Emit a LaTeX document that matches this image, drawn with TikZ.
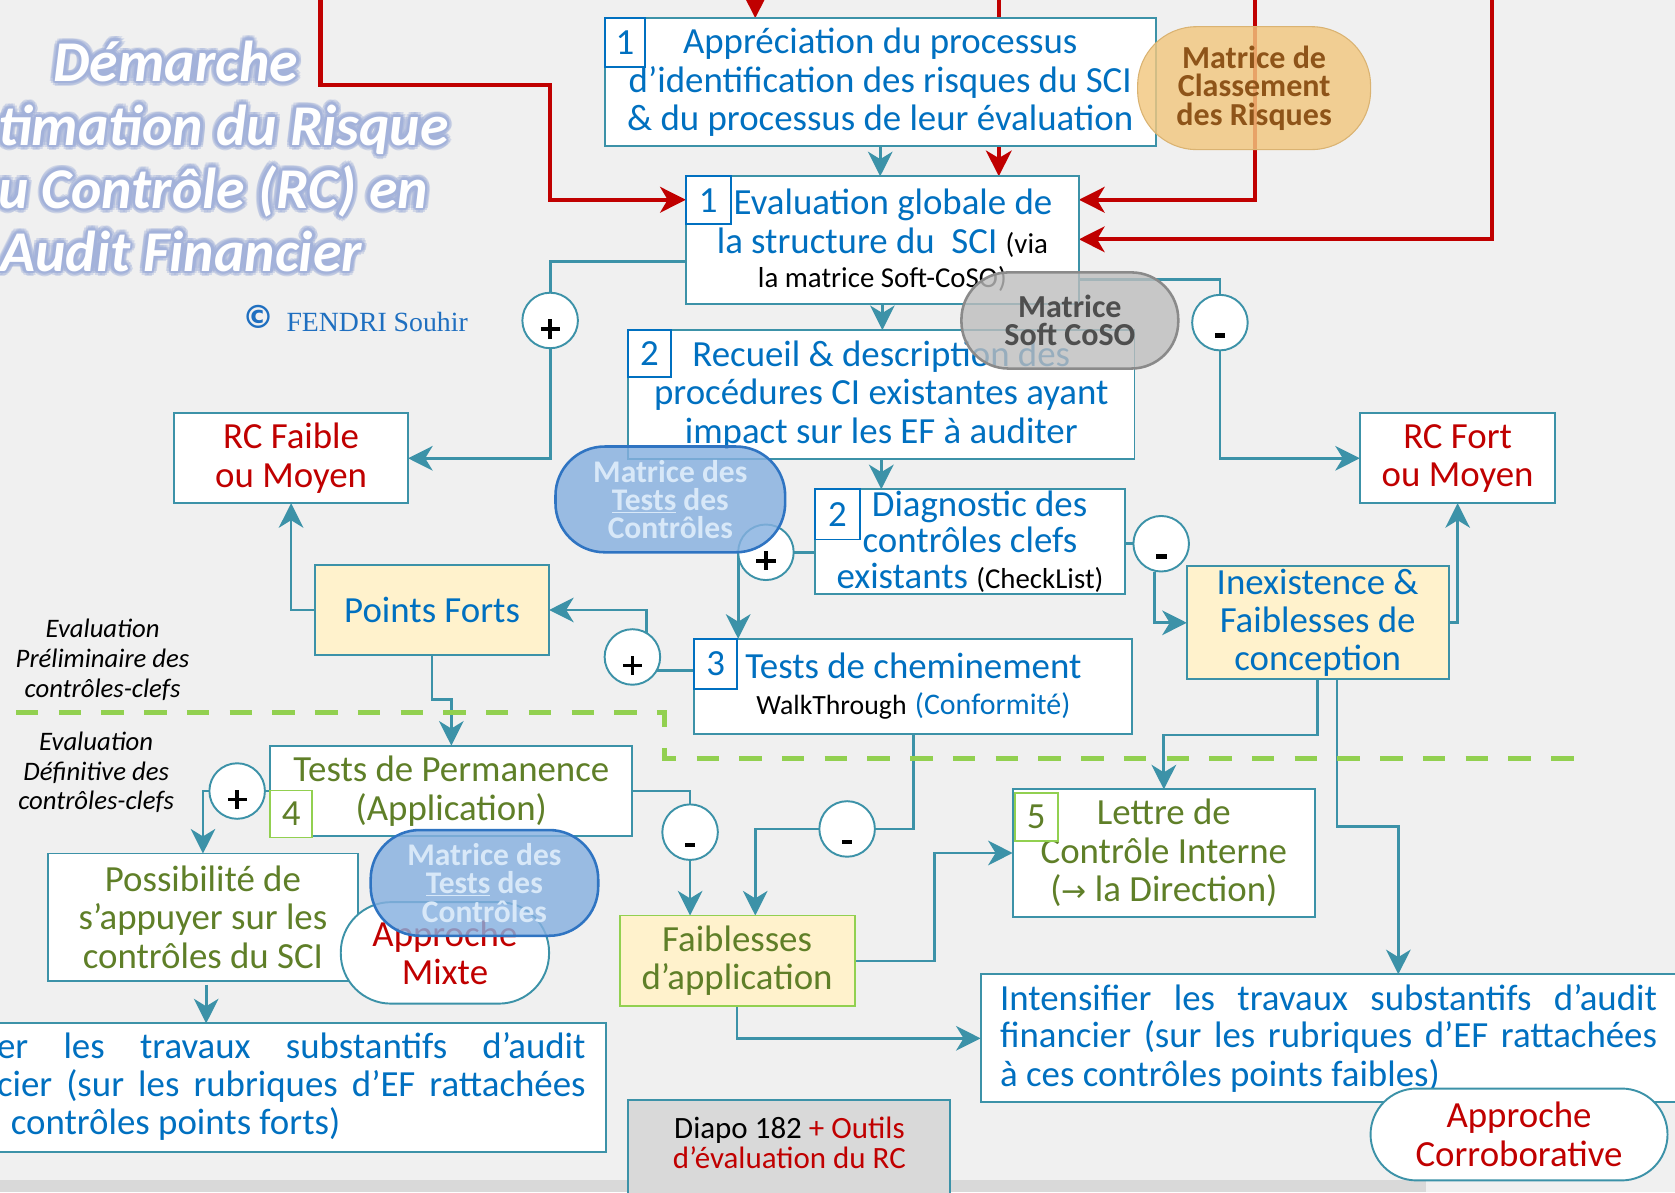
\documentclass[tikz,border=0pt]{standalone}
\usepackage{fontspec}
\setmainfont{Carlito}
\newfontfamily\serifrm{Liberation Serif}
\newfontfamily\symf{DejaVu Sans}
\usetikzlibrary{arrows.meta,calc}

\definecolor{bgc}{HTML}{F0F0F0}
\definecolor{stripc}{HTML}{D9D9D9}
\definecolor{tealc}{HTML}{3C92A8}
\definecolor{blueT}{HTML}{0070C0}
\definecolor{redT}{HTML}{C00000}
\definecolor{greenT}{HTML}{5F7F28}
\definecolor{greenB}{HTML}{92D050}
\definecolor{yelc}{HTML}{FFF2CC}
\definecolor{glowc}{HTML}{A3B2DA}
\definecolor{pillfill}{HTML}{86B0E0}
\definecolor{pilledge}{HTML}{2F74C2}
\definecolor{pilltext}{HTML}{D8E8F8}
\definecolor{orfill}{HTML}{F2C77F}
\definecolor{ortext}{HTML}{8E5419}
\definecolor{grfill}{HTML}{BDBDBD}
\definecolor{gredge}{HTML}{8A8A8A}
\definecolor{grtext}{HTML}{4E4E4E}
\definecolor{cpblue}{HTML}{1F6FC0}

\newcommand\mainf{\fontsize{34.5}{36}\selectfont}
\newcommand\smf{\fontsize{27}{30}\selectfont}
\newcommand\pillf{\fontsize{29.5}{26.5}\selectfont\bfseries}
\newcommand\titlef{\fontsize{54}{60}\selectfont\bfseries\itshape}

\pgfdeclarelayer{bg}
\pgfdeclarelayer{wires}
\pgfdeclarelayer{front}
\pgfsetlayers{bg,wires,main,front}

% title line with a soft blue halo: name, base-west point, text
\newcommand\glowline[3]{%
  \foreach \ang in {0,30,...,330}{
    \node[ttl,text=glowc,opacity=.4] (#1o\ang) at ($(#2)+(\ang:4.8)$) {#3};
    \node[ttl,text=glowc,opacity=.6] (#1i\ang) at ($(#2)+(\ang:2.4)$) {#3};
  }
  \node[ttl,text=white] (#1) at (#2) {#3};
}

\begin{document}
\begin{tikzpicture}[x=1pt,y=-1pt,
  ttl/.style={anchor=base west,inner sep=0pt,font=\titlef},
  box/.style={draw=tealc,line width=1.8pt,fill=white,inner sep=0pt,outer sep=0pt,align=center,font=\mainf},
  ybox/.style={box,fill=yelc},
  numb/.style={draw=blueT,line width=1.8pt,fill=white,inner sep=0pt,outer sep=0pt,text=blueT,font=\mainf},
  numg/.style={numb,draw=greenB,text=greenT},
  jl/.style={anchor=base west,inner sep=0pt,font=\mainf,text=blueT},
  pill/.style={draw=pilledge,line width=2.4pt,rounded corners=46pt,fill=pillfill,fill opacity=.82,text opacity=1,text=pilltext,font=\pillf,align=center,inner sep=0pt},
  gpill/.style={draw=gredge,line width=2.4pt,rounded corners=44pt,fill=grfill,fill opacity=.8,text opacity=1,text=grtext,font=\fontsize{30}{26.5}\selectfont\bfseries,align=center,inner sep=0pt},
  opill/.style={draw=orfill!90!black,line width=1pt,rounded corners=55pt,fill=orfill,fill opacity=.82,text opacity=1,text=ortext,font=\fontsize{30}{27}\selectfont\bfseries,align=center,inner sep=0pt},
  circ/.style={circle,draw=tealc,line width=1.8pt,fill=white,minimum size=52pt,inner sep=0pt,outer sep=0pt},
  plus/.style={circ,path picture={
    \fill[black] ($(path picture bounding box.center)+(-9pt,-9.75pt)$) rectangle ++(18pt,3.5pt);
    \fill[black] ($(path picture bounding box.center)+(-1.75pt,-17pt)$) rectangle ++(3.5pt,18pt);}},
  minus/.style={circ,path picture={
    \fill[black] ($(path picture bounding box.center)+(-5pt,-14pt)$) rectangle ++(10pt,4pt);}},
  wire/.style={draw=tealc,line width=2.6pt},
  tarrow/.style={wire,-{Stealth[length=23pt,width=23pt,inset=7pt]}},
  rarrow/.style={draw=redT,line width=3.8pt,-{Stealth[length=24pt,width=24pt,inset=7pt]}},
  side/.style={align=center,inner sep=0pt,font=\fontsize{25}{28}\selectfont\itshape},
]
\useasboundingbox (0,0) rectangle (1568,1116);

\begin{pgfonlayer}{bg}
  \fill[bgc] (0,0) rectangle (1568,1116);
  \fill[stripc] (0,1105) rectangle (1335,1116);
\end{pgfonlayer}

% ---------- title and side captions ----------
\glowline{t1}{50,76}{Démarche}
\glowline{t2}{-2,136}{timation du Risque}
\glowline{t3}{-2,195}{u Contrôle (RC) en}
\glowline{t4}{0,254}{Audit Financier}

\node[text=cpblue,font=\symf\bfseries\fontsize{30}{30}\selectfont,inner sep=0pt] (cpy) at (242,297) {©};
\node[anchor=west,inner sep=0pt,text=cpblue,font=\serifrm\fontsize{26}{28}\selectfont] (auth) at (268,301) {FENDRI Souhir};

\node[side] (s1) at (96,618) {Evaluation\\Préliminaire des\\contrôles-clefs};
\node[side] (s2) at (90,723) {Evaluation\\Définitive des\\contrôles-clefs};

% ---------- process boxes ----------
\node[box,minimum width=516pt,minimum height=120pt,text=blueT] (A) at (824,77)
  {Appréciation du processus\\d’identification des risques du SCI\\\& du processus de leur évaluation};
\node[numb,minimum width=38pt,minimum height=46pt] (nA) at (585,40) {1};

\node[box,minimum width=368pt,minimum height=120pt,text=blueT] (B) at (826,225)
  {\hspace*{20pt}Evaluation globale de\\la structure du \ SCI {\smf\color{black}(via}\\[-4pt]{\smf\color{black}la matrice Soft-CoSO)}};
\node[numb,minimum width=42pt,minimum height=45pt] (nB) at (663,187.5) {1};

\node[box,minimum width=474pt,minimum height=121pt,text=blueT] (C) at (825,369.5)
  {Recueil \& description des\\procédures CI existantes ayant\\impact sur les EF à auditer};
\node[numb,minimum width=40pt,minimum height=44pt] (nC) at (608,331) {2};

\node[box,minimum width=290pt,minimum height=98pt,text=blueT] (D) at (908,507)
  {\hspace*{18pt}Diagnostic des\\[-2pt]contrôles clefs\\[-2pt]existants {\smf\color{black}(CheckList)}};
\node[numb,minimum width=42pt,minimum height=47pt] (nD) at (784,481.5) {2};

\node[box,minimum width=410pt,minimum height=89pt,text=blueT] (E) at (855,642.5)
  {Tests de cheminement\\[-2pt]{\fontsize{26}{28}\selectfont\color{black}WalkThrough} {\fontsize{28}{30}\selectfont(Conformité)}};
\node[numb,minimum width=40pt,minimum height=47pt] (nE) at (670,621.5) {3};

\node[box,minimum width=219pt,minimum height=84pt,text=redT] (RCF) at (272.5,429) {RC Faible\\ou Moyen};
\node[box,minimum width=183pt,minimum height=84pt,text=redT] (RCFo) at (1364.5,429) {RC Fort\\ou Moyen};
\node[ybox,minimum width=219pt,minimum height=84pt,text=blueT] (PF) at (404.5,571) {Points Forts};
\node[ybox,minimum width=245pt,minimum height=106pt,text=blueT] (Inex) at (1233.5,583) {Inexistence \&\\Faiblesses de\\conception};

\node[box,minimum width=339pt,minimum height=85pt,text=greenT] (TP) at (422.5,740.5) {Tests de Permanence\\(Application)};
\node[numg,minimum width=39pt,minimum height=44pt] (nTP) at (272.5,762) {4};

\node[box,minimum width=290pt,minimum height=119pt,text=greenT] (Poss) at (190,858.5)
  {Possibilité de\\s’appuyer sur les\\contrôles du SCI};

\node[ybox,draw=greenB,minimum width=220pt,minimum height=85pt,text=greenT] (Faib) at (690,899.5) {Faiblesses\\d’application};

\node[box,minimum width=283pt,minimum height=119pt,text=greenT] (Let) at (1089.5,798.5)
  {Lettre de\\Contrôle Interne\\({\symf\fontsize{28}{30}\selectfont→} la Direction)};
\node[numg,minimum width=40pt,minimum height=45pt] (nL) at (970,764.5) {5};

\node[box,minimum width=572pt,minimum height=120pt] (BL) at (281,1018) {};
\node[jl] (BL1) at (-3,991) {\makebox[551pt][s]{er les travaux substantifs d’audit}};
\node[jl] (BL2) at (-3,1026) {\makebox[551pt][s]{cier (sur les rubriques d’EF rattachées}};
\node[jl] (BL3) at (10,1062) {contrôles points forts)};

\node[box,minimum width=662pt,minimum height=120pt] (Int) at (1249,972) {};
\node[jl] (I1) at (936,945.5) {\makebox[615pt][s]{Intensifier les travaux substantifs d’audit}};
\node[jl] (I2) at (936,981) {\makebox[615pt][s]{financier (sur les rubriques d’EF rattachées}};
\node[jl] (I3) at (936,1017) {à ces contrôles points faibles)};

\node[box,rounded corners=47pt,minimum width=195pt,minimum height=95pt,text=redT] (Mix) at (416.5,892) {Approche\\Mixte};
\node[box,rounded corners=43pt,minimum width=278pt,minimum height=86pt,text=redT] (Cor) at (1422,1062) {Approche\\Corroborative};

\node[box,fill=stripc,minimum width=301pt,minimum height=92pt] (Dia) at (738.5,1076) {};
\node[align=center,inner sep=0pt,font=\fontsize{29}{28}\selectfont] (DiaT) at (739,1070)
  {Diapo 182 {\color{redT}+ Outils}\\{\color{redT}d’évaluation du RC}};

% ---------- decision circles ----------
\node[plus]  (c1) at (515,300) {};
\node[minus] (c2) at (1142,302) {};
\node[plus]  (c3) at (717,517) {};
\node[minus] (c4) at (1087,509) {};
\node[plus]  (c5) at (592,615) {};
\node[plus]  (c6) at (222,740.5) {};
\node[minus] (c7) at (646,779) {};
\node[minus] (c8) at (793,776) {};

% ---------- connectors ----------
\begin{pgfonlayer}{wires}
  \coordinate (r1) at (707,-5);
  \coordinate (r2) at (300,-5);
  \coordinate (r3) at (935,-5);
  \coordinate (r4) at (1175,-5);
  \coordinate (r5) at (1397,-5);
  \draw[rarrow] (r1) -- (r1 |- A.north);
  \draw[rarrow] (r2) -- (300,80) -- (515,80) |- ([yshift=38pt]B.west);
  \draw[rarrow] (r3) -- (r3 |- B.north);
  \draw[rarrow] (r4) |- ([yshift=38pt]B.east);
  \draw[rarrow] (r5) |- ([yshift=1pt]B.east);

  \draw[tarrow] (A.south) -- (A.south |- B.north);
  \draw[tarrow] (B.south) -- (B.south |- C.north);
  \draw[wire] ([yshift=-20pt]B.west) -| (c1.north);
  \draw[tarrow] (c1.south) |- (RCF.east);
  \draw[wire] ([yshift=-37pt]B.east) -| (c2.north);
  \draw[tarrow] (c2.south) |- (RCFo.west);
  \draw[tarrow] (C.south) -- (C.south |- D.north);
  \draw[wire] (c3.east) -- (c3.east -| D.west);
  \draw[tarrow] (c3.west) -- (c3.west |- E.north);
  \draw[wire] (c4.west) -- (c4.west -| D.east);
  \draw[tarrow] ([xshift=-6pt]c4.south) |- (Inex.west);
  \draw[wire] (c5.-30) -- (c5.-30 -| E.west);
  \draw[tarrow] (c5.60) |- (PF.east);
  \draw[tarrow] (PF.west) -| (RCF.south);
  \draw[tarrow] (PF.south) -- ++(0,42) -| (TP.north);
  \draw[wire] (TP.west) -- (c6.east);
  \draw[tarrow] (c6.west) -| (Poss.north);
  \draw[tarrow] ([xshift=3pt,yshift=-4pt]Poss.south) -- ([xshift=3pt]Poss.south |- BL.north);
  \draw[wire] (TP.east) -| (c7.north);
  \draw[tarrow] (c7.south) -- (c7.south |- Faib.north);
  \draw[wire] (E.south) |- (c8.east);
  \draw[tarrow] (c8.west) -| ([xshift=17pt]Faib.north);
  \draw[tarrow] (Faib.east) -- ++(75,0) |- (Let.west);
  \draw[tarrow] (Faib.south) |- (Int.west);
  \draw[tarrow] (Inex.east) -| (RCFo.south);
  \draw[tarrow] (Inex.south) -- ++(0,52) -| (Let.north);
  \draw[tarrow] ([xshift=18pt]Inex.south) -- ++(0,138) -| ([xshift=60pt]Int.north);

  % boundary between preliminary and definitive evaluation
  \draw[greenB,line width=4.5pt,dash pattern=on 21pt off 19pt] (15,667) -- (622,667) -- (622,710) -- (1480,710);
\end{pgfonlayer}

% ---------- tool capsules ----------
\begin{pgfonlayer}{front}
  \node[opill,minimum width=218pt,minimum height=115pt] (MC) at (1174,82.5) {Matrice de\\Classement\\des Risques};
  \node[gpill,minimum width=203pt,minimum height=90pt] (SC) at (1001.5,300) {Matrice\\Soft CoSO};
  \node[pill,minimum width=215pt,minimum height=99pt] (P1) at (627.5,467.5) {Matrice des\\\underline{Tests} des\\Contrôles};
  \node[pill,minimum width=213pt,minimum height=99pt] (P2) at (453.5,826.5) {Matrice des\\\underline{Tests} des\\Contrôles};
\end{pgfonlayer}
\end{tikzpicture}
\end{document}
